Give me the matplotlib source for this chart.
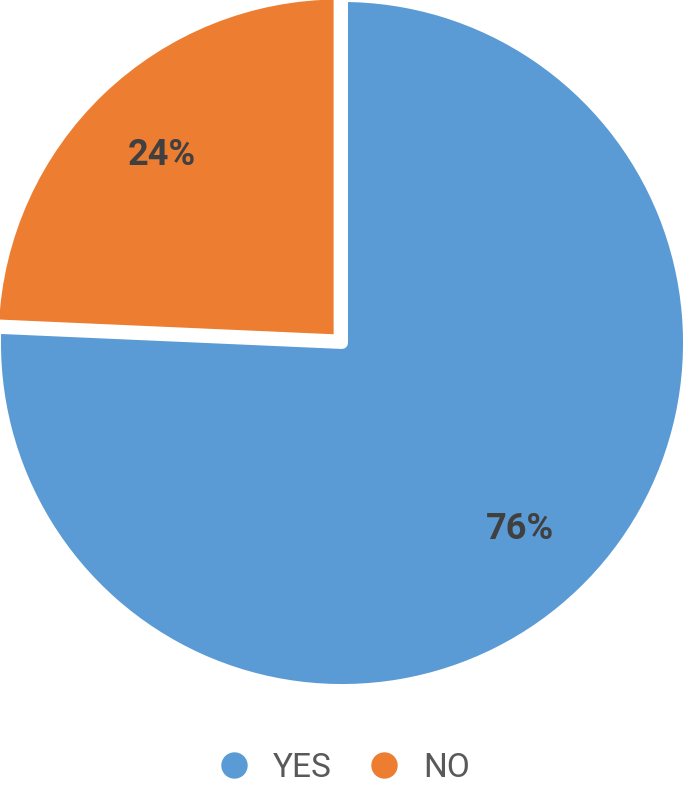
import matplotlib.pyplot as plt
from matplotlib.lines import Line2D

# Данные
labels = ['YES', 'NO']
values = [75.7, 24.3]
colors = ['#5B9BD5', '#ED7D31']

fig = plt.figure(figsize=(6.85, 7.87), dpi=100)
ax = fig.add_axes([-5 / 685, 97 / 787, 694 / 685, 694 / 787])

wedges, texts, autotexts = ax.pie(
    values, colors=colors, startangle=90, counterclock=False,
    explode=[0, 0.01], autopct='%.0f%%', pctdistance=0.74,
    wedgeprops={'edgecolor': 'white', 'linewidth': 8.6, 'joinstyle': 'round'},
    textprops={'color': '#404040', 'fontsize': 26, 'fontweight': 'bold',
               'family': 'Roboto'})
ax.set_xlim(-1, 1)
ax.set_ylim(-1, 1)

# Легенда с круглыми маркерами
handles = [Line2D([], [], marker='o', linestyle='none', markersize=18,
                  markerfacecolor=c, markeredgecolor=c) for c in colors]
fig.legend(handles, labels, loc='center', bbox_to_anchor=(0.505, 1 - 768 / 787),
           ncol=2, frameon=False, handlelength=0.75, handletextpad=0.8,
           columnspacing=1.2, borderpad=0, prop={'family': 'Roboto', 'size': 24},
           labelcolor='#595959')

fig.savefig('out.png', dpi=100)
